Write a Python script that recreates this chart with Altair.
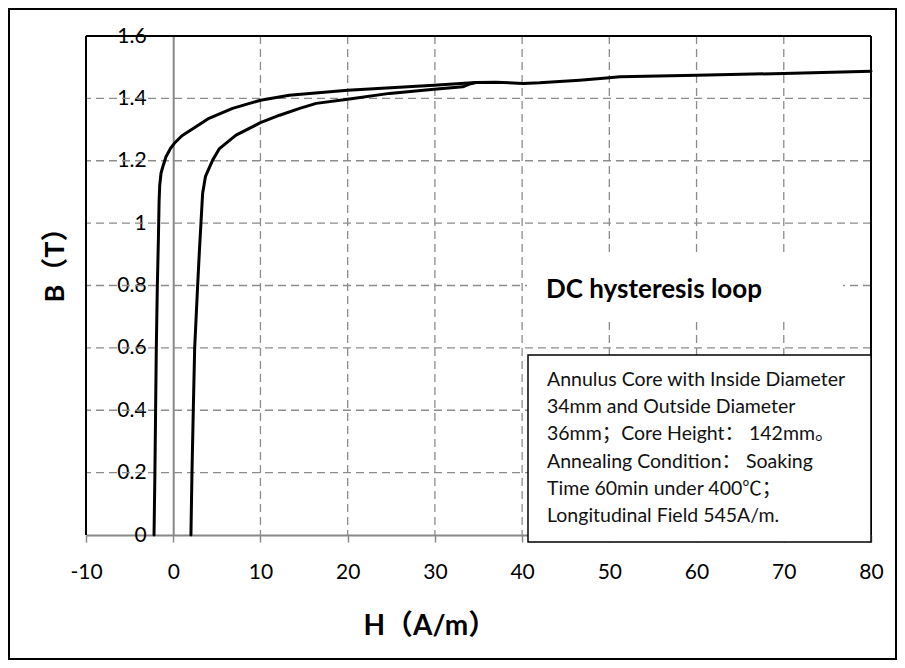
import altair as alt
import pandas as pd

# ---- data ----
# descending branch (from H=80 back to negative H)
H_DESC = [80, 70, 60, 51.2, 50, 46.6, 42, 40.1, 37, 34.7, 29.9, 20, 13.3, 10, 6.8, 4.1, 2.6, 1.0,
          0.13, -0.3, -0.83, -1.2, -1.4, -1.55, -1.62, -1.7, -1.82, -1.94, -2.02, -2.1, -2.2]
B_DESC = [1.487, 1.480, 1.474, 1.469, 1.466, 1.458, 1.450, 1.448, 1.452, 1.451, 1.442, 1.426, 1.410,
          1.394, 1.368, 1.336, 1.309, 1.28, 1.256, 1.24, 1.213, 1.18, 1.16, 1.12, 1.07, 0.95, 0.80,
          0.60, 0.40, 0.20, 0.0]
# ascending branch (from positive coercive field up to the join)
H_ASC = [2.03, 2.15, 2.3, 2.46, 2.8, 3.0, 3.37, 3.7, 4.52, 5.3, 7.2, 10, 12.2, 14.5, 16.4, 20,
         24.8, 29.9, 33.2, 34.1, 34.7]
B_ASC = [0.0, 0.20, 0.40, 0.60, 0.80, 0.91, 1.095, 1.15, 1.202, 1.239, 1.282, 1.322, 1.346, 1.368,
         1.384, 1.397, 1.416, 1.429, 1.437, 1.447, 1.451]

X_TICKS = [-10, 0, 10, 20, 30, 40, 50, 60, 70, 80]
Y_TICKS = [0, 0.2, 0.4, 0.6, 0.8, 1, 1.2, 1.4, 1.6]
X_GRID = [10, 20, 30, 40, 50, 60, 70]
Y_GRID = [0.2, 0.4, 0.6, 0.8, 1, 1.2, 1.4]
X_FRAME = [-10, 80]
Y_FRAME = [1.6]

X_TITLE = "H（A/m）"
Y_TITLE = "B（T）"
TITLE = "DC hysteresis loop"
NOTE_LINES = [
    "Annulus Core with Inside Diameter",
    "34mm and Outside  Diameter",
    "36mm；Core Height： 142mm。",
    "Annealing Condition： Soaking",
    "Time 60min under 400℃；",
    "Longitudinal Field 545A/m.",
]

W, HGT = 785, 499
FONT = "Lato, 'Noto Sans CJK SC', sans-serif"
GRID_COLOR = "#8c8c8c"

rows = []
for i, (h, b) in enumerate(zip(H_DESC, B_DESC)):
    rows.append({"branch": "desc", "i": i, "H": h, "B": b})
for i, (h, b) in enumerate(zip(H_ASC, B_ASC)):
    rows.append({"branch": "asc", "i": i, "H": h, "B": b})
df = pd.DataFrame(rows)

xs = alt.Scale(domain=[-10, 80], nice=False, zero=False)
ys = alt.Scale(domain=[0, 1.6], nice=False, zero=False)

X_AXIS = alt.Axis(
    values=X_TICKS, labelExpr="'' + datum.value", grid=False,
    domainColor="#888888", domainWidth=2, tickColor="#888888", tickSize=7, tickWidth=1.5,
    labelFont=FONT, labelFontSize=21, labelColor="black", labelPadding=30,
    labelBaseline="middle", labelFlush=False, labelOverlap=False,
    title=X_TITLE, titleFont=FONT, titleFontSize=28, titleFontWeight="bold",
    titleColor="black", titleX=277, titleY=91, titleAlign="left", titleBaseline="middle")
Y_AXIS = alt.Axis(
    values=Y_TICKS, labelExpr="'' + datum.value", grid=False, offset=-87.2,
    domainColor="#888888", domainWidth=2, ticks=False,
    labelFont=FONT, labelFontSize=21, labelColor="black", labelPadding=27,
    labelAlign="right", labelBaseline="middle", labelFlush=False, labelOverlap=False,
    title=Y_TITLE, titleFont=FONT, titleFontSize=27, titleFontWeight="bold",
    titleColor="black", titleAngle=270, titleX=-118, titleY=266, titleAlign="left",
    titleBaseline="middle")

one = pd.DataFrame({"a": [0]})

frame_outer = alt.Chart(one).mark_rect(fill=None, stroke="black", strokeWidth=2).encode(
    x=alt.value(-77), x2=alt.value(810), y=alt.value(-27), y2=alt.value(623))

grid_v = alt.Chart(pd.DataFrame({"H": X_GRID})).mark_rule(
    color=GRID_COLOR, strokeWidth=1.3, strokeDash=[8, 5]).encode(
    x=alt.X("H:Q", scale=xs, axis=X_AXIS))
grid_h = alt.Chart(pd.DataFrame({"B": Y_GRID})).mark_rule(
    color=GRID_COLOR, strokeWidth=1.3, strokeDash=[8, 5]).encode(
    y=alt.Y("B:Q", scale=ys, axis=Y_AXIS))

frame_v = alt.Chart(pd.DataFrame({"H": X_FRAME})).mark_rule(color="black", strokeWidth=2).encode(
    x=alt.X("H:Q", scale=xs, axis=X_AXIS))
frame_h = alt.Chart(pd.DataFrame({"B": Y_FRAME})).mark_rule(color="black", strokeWidth=2).encode(
    y=alt.Y("B:Q", scale=ys, axis=Y_AXIS))

curves = alt.Chart(df).mark_line(color="black", strokeWidth=3, strokeJoin="round",
                                 strokeCap="round").encode(
    x=alt.X("H:Q", scale=xs, axis=X_AXIS),
    y=alt.Y("B:Q", scale=ys, axis=Y_AXIS),
    detail="branch:N",
    order="i:Q",
)

title_bg = alt.Chart(one).mark_rect(fill="white", stroke=None).encode(
    x=alt.value(441), x2=alt.value(757), y=alt.value(219), y2=alt.value(282))
title_txt = alt.Chart(one).mark_text(
    text=TITLE, align="left", baseline="middle", font=FONT, fontSize=26,
    fontWeight="bold", color="black").encode(x=alt.value(460), y=alt.value(254))

box = alt.Chart(one).mark_rect(fill="white", stroke="black", strokeWidth=1.5).encode(
    x=alt.value(442), x2=alt.value(785), y=alt.value(319), y2=alt.value(506))
note = alt.Chart(one).mark_text(
    text=NOTE_LINES, align="left", baseline="top", font=FONT, fontSize=19.5,
    lineHeight=27.2, color="#111111").encode(x=alt.value(461), y=alt.value(335))

chart = alt.layer(
    frame_outer, grid_v, grid_h, title_bg, title_txt, curves, frame_v, frame_h, box, note
).properties(
    width=W, height=HGT,
    padding={"left": 78, "top": 28, "right": 26, "bottom": 125},
    autosize=alt.AutoSizeParams(type="none"),
).configure_view(stroke=None).configure(background="white")

chart.save("out.html", embed_options={"renderer": "svg", "actions": False})
